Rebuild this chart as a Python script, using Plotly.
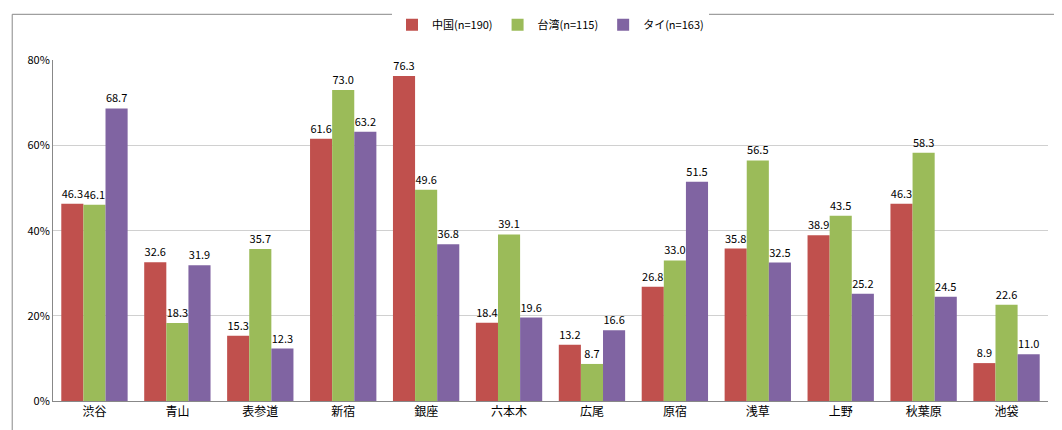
import plotly.graph_objects as go

categories = ["渋谷","青山","表参道","新宿","銀座","六本木","広尾","原宿","浅草","上野","秋葉原","池袋"]
china = [46.3,32.6,15.3,61.6,76.3,18.4,13.2,26.8,35.8,38.9,46.3,8.9]
taiwan = [46.1,18.3,35.7,73.0,49.6,39.1,8.7,33.0,56.5,43.5,58.3,22.6]
thai = [68.7,31.9,12.3,63.2,36.8,19.6,16.6,51.5,32.5,25.2,24.5,11.0]
names = ["中国(n=190)","台湾(n=115)","タイ(n=163)"]
colors = ["#C0504D","#9BBB59","#8064A2"]

fig = go.Figure()
for name, vals, c in zip(names, [china, taiwan, thai], colors):
    fig.add_trace(go.Bar(x=categories, y=vals, name=name, marker_color=c,
                         marker_line_width=0,
                         text=[f"{v:.1f}" for v in vals], textposition="outside",
                         textfont=dict(size=11, color="#000"), cliponaxis=False))

fig.update_layout(
    width=1062, height=430, barmode="group", bargap=0.2, bargroupgap=0,
    margin=dict(l=45, r=22, t=48, b=37),
    plot_bgcolor="white", paper_bgcolor="white",
    font=dict(family="Noto Sans CJK JP", size=12, color="#000"),
    legend=dict(orientation="h", x=0.5, xanchor="center", y=1.0, yanchor="bottom",
                yref="container", font=dict(size=11)),
    xaxis=dict(showline=True, linecolor="#888", ticks="", tickfont=dict(size=12)),
    yaxis=dict(range=[0, 80], dtick=20, ticksuffix="%", showgrid=True, gridcolor="#D0D0D0",
               showline=True, linecolor="#888", tickfont=dict(size=11), zeroline=False),
    shapes=[dict(type="rect", xref="paper", yref="paper", x0=-0.041, x1=1.019, y0=-0.107, y1=1.135,
                 line=dict(color="#888", width=1))],
)
fig.update_layout(legend=dict(y=0.995, yanchor="top"))
fig.write_html("out.html")
